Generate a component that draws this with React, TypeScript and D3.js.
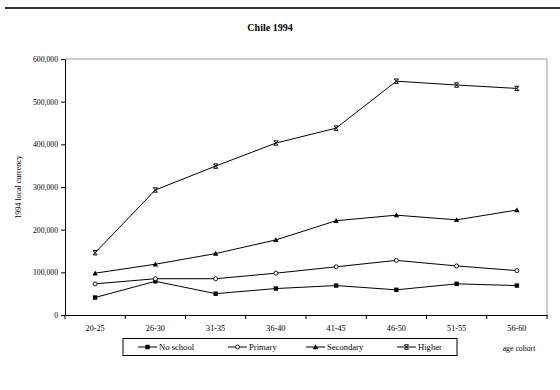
import { useEffect, useRef } from 'react';
import * as d3 from 'd3';

const cohorts = ['20-25', '26-30', '31-35', '36-40', '41-45', '46-50', '51-55', '56-60'];
const noSchool = [41000, 79000, 50000, 62000, 69000, 59000, 73000, 69000];
const primary = [73000, 85000, 85000, 98000, 113000, 128000, 115000, 104000];
const secondary = [98000, 119000, 144000, 176000, 221000, 234000, 223000, 246000];
const higher = [146000, 293000, 349000, 403000, 438000, 548000, 539000, 531000];
const seriesNames = ['No school', 'Primary', 'Secondary', 'Higher'];
const yTicks = [0, 100000, 200000, 300000, 400000, 500000, 600000];

const FONT = '"Liberation Serif", "Times New Roman", serif';

const App = () => {
  const svgRef = useRef(null);

  useEffect(() => {
    const svg = d3.select(svgRef.current);
    svg.selectAll('*').remove();

    const plot = { left: 65, right: 547, top: 59, bottom: 315 };

    // rule across the top
    svg.append('line')
      .attr('x1', 5).attr('x2', 560).attr('y1', 8).attr('y2', 8)
      .attr('stroke', '#333').attr('stroke-width', 2);

    svg.append('text')
      .attr('x', 270).attr('y', 31)
      .attr('text-anchor', 'middle')
      .style('font-family', FONT).style('font-size', '10px').style('font-weight', 'bold')
      .text('Chile 1994');

    const xScale = d3.scaleBand().domain(cohorts).range([plot.left, plot.right]);
    const yScale = d3.scaleLinear().domain([0, 600000]).range([plot.bottom, plot.top]);

    // gray frame top/right
    svg.append('path')
      .attr('d', `M${plot.left},${plot.top}H${plot.right}V${plot.bottom}`)
      .attr('fill', 'none').attr('stroke', '#999').attr('stroke-width', 1);

    const yAxis = d3.axisLeft(yScale)
      .tickValues(yTicks)
      .tickFormat(d3.format(','))
      .tickSize(4).tickSizeOuter(0);
    svg.append('g')
      .attr('transform', `translate(${plot.left},0)`)
      .call(yAxis)
      .call((g) => g.selectAll('text').style('font-family', FONT).style('font-size', '7.7px').attr('fill', '#000'))
      .call((g) => g.selectAll('line, path').attr('stroke', '#000'));

    const xAxis = d3.axisBottom(xScale).tickSize(0).tickSizeOuter(0);
    svg.append('g')
      .attr('transform', `translate(0,${plot.bottom})`)
      .call(xAxis)
      .call((g) => g.selectAll('text').attr('dy', '1.6em').style('font-family', FONT).style('font-size', '8.2px').attr('fill', '#000'))
      .call((g) => g.select('.domain').attr('stroke', '#000'));

    // tick marks between categories
    const bounds = cohorts.map((c) => xScale(c)).concat([plot.right]);
    svg.append('g').selectAll('line').data(bounds).enter().append('line')
      .attr('x1', (d) => d).attr('x2', (d) => d)
      .attr('y1', plot.bottom).attr('y2', plot.bottom + 4)
      .attr('stroke', '#000');

    svg.append('text')
      .attr('transform', `translate(21,${(plot.top + plot.bottom) / 2}) rotate(-90)`)
      .attr('text-anchor', 'middle')
      .style('font-family', FONT).style('font-size', '8px')
      .text('1994 local currency');

    const drawMarker = (g, kind, x, y) => {
      if (kind === 0) {
        g.append('rect').attr('x', x - 2.2).attr('y', y - 2.2).attr('width', 4.4).attr('height', 4.4).attr('fill', '#000');
      } else if (kind === 1) {
        g.append('circle').attr('cx', x).attr('cy', y).attr('r', 2).attr('fill', '#fff').attr('stroke', '#000').attr('stroke-width', 0.9);
      } else if (kind === 2) {
        g.append('path').attr('d', `M${x},${y - 2.7}L${x + 2.7},${y + 2.2}L${x - 2.7},${y + 2.2}Z`).attr('fill', '#000');
      } else {
        g.append('path')
          .attr('d', `M${x - 2.2},${y - 2.2}L${x + 2.2},${y + 2.2}M${x + 2.2},${y - 2.2}L${x - 2.2},${y + 2.2}M${x - 2},${y - 2.2}H${x + 2}M${x - 2},${y + 2.2}H${x + 2}`)
          .attr('fill', 'none').attr('stroke', '#000').attr('stroke-width', 1);
      }
    };

    const allSeries = [noSchool, primary, secondary, higher];
    const line = d3.line()
      .x((d, i) => xScale(cohorts[i]) + xScale.bandwidth() / 2)
      .y((d) => yScale(d));

    allSeries.forEach((values, k) => {
      const g = svg.append('g');
      g.append('path').attr('d', line(values)).attr('fill', 'none').attr('stroke', '#000').attr('stroke-width', 1);
      values.forEach((v, i) => drawMarker(g, k, xScale(cohorts[i]) + xScale.bandwidth() / 2, yScale(v)));
    });

    // legend
    const legend = svg.append('g');
    legend.append('rect')
      .attr('x', 123).attr('y', 338.5).attr('width', 334).attr('height', 17)
      .attr('fill', '#fff').attr('stroke', '#000').attr('stroke-width', 1);
    const legendX = [138, 228, 306, 397];
    seriesNames.forEach((name, k) => {
      const x0 = legendX[k];
      const y0 = 347;
      legend.append('line').attr('x1', x0).attr('x2', x0 + 19).attr('y1', y0).attr('y2', y0).attr('stroke', '#000');
      drawMarker(legend, k, x0 + 9.5, y0);
      legend.append('text')
        .attr('x', x0 + 21).attr('y', y0 + 3)
        .style('font-family', FONT).style('font-size', '8.6px')
        .text(name);
    });

    svg.append('text')
      .attr('x', 519).attr('y', 351)
      .attr('text-anchor', 'middle')
      .style('font-family', FONT).style('font-size', '7.8px')
      .text('age cohort');
  }, []);

  return (
    <svg
      ref={svgRef}
      width={560}
      height={390}
      style={{ position: 'absolute', left: 0, top: 0, background: '#fff' }}
    />
  );
};

export default App;
